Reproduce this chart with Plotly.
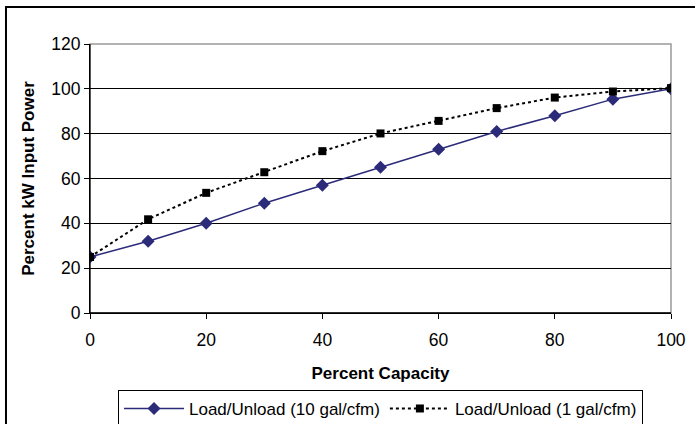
import plotly.graph_objects as go

capacity = [0, 10, 20, 30, 40, 50, 60, 70, 80, 90, 100]
power_10gal = [25, 32, 40, 49, 57, 65, 73, 81, 88, 95.4, 100]
power_1gal = [25, 41.8, 53.6, 62.8, 72.2, 80.1, 85.7, 91.4, 96.1, 98.8, 100.3]
x_ticks = [0, 20, 40, 60, 80, 100]
y_ticks = [0, 20, 40, 60, 80, 100, 120]

FONT = "Liberation Sans, Arial, sans-serif"

fig = go.Figure()
fig.add_trace(go.Scatter(
    x=capacity, y=power_10gal, mode="lines+markers",
    name="Load/Unload (10 gal/cfm)",
    line=dict(color="#2B2B7A", width=1.5),
    marker=dict(symbol="diamond", size=10, color="#2B2B7A"),
))
fig.add_trace(go.Scatter(
    x=capacity, y=power_1gal, mode="lines+markers",
    name="Load/Unload (1 gal/cfm)",
    line=dict(color="#000000", width=2, dash="dot"),
    marker=dict(symbol="square", size=8, color="#000000"),
))

fig.update_layout(
    width=695, height=424,
    margin=dict(l=90, r=24, t=44, b=111, autoexpand=False),
    paper_bgcolor="white", plot_bgcolor="white",
    font=dict(family=FONT, size=17, color="black"),
    showlegend=True,
    legend=dict(
        orientation="h", x=0.5, xanchor="center", y=-0.286, yanchor="top",
        bordercolor="black", borderwidth=1, font=dict(size=17, family=FONT),
        itemwidth=60, tracegroupgap=0,
    ),
    xaxis=dict(
        range=[0, 100], tickvals=x_ticks, showgrid=False, zeroline=False,
        showline=True, linecolor="black", linewidth=1, automargin=False,
        ticks="outside", ticklen=5, tickcolor="black", ticklabelstandoff=6,
        tickfont=dict(size=17.5),
        title=dict(text="<b>Percent Capacity</b>", font=dict(size=17), standoff=18),
    ),
    yaxis=dict(
        range=[0, 120], tickvals=y_ticks, showgrid=True, gridcolor="#000000",
        gridwidth=1, zeroline=False, automargin=False,
        showline=True, linecolor="black", linewidth=1,
        ticks="outside", ticklen=5, tickcolor="black",
        tickfont=dict(size=17.5),
        title=dict(text="<b>Percent kW Input Power</b>", font=dict(size=17), standoff=12),
    ),
    shapes=[
        dict(type="rect", xref="paper", yref="paper", x0=0, x1=1, y0=0, y1=1,
             line=dict(color="#999999", width=1.5), layer="below"),
        dict(type="line", xref="paper", yref="paper", x0=0, x1=0, y0=0, y1=1,
             line=dict(color="black", width=1), layer="above"),
        dict(type="line", xref="paper", yref="paper", x0=0, x1=1, y0=0, y1=0,
             line=dict(color="black", width=1.5), layer="above"),
        dict(type="path", xref="paper", yref="paper",
             path="M -0.1446,-0.5 L -0.1446,1.1375 L 1.05,1.1375",
             line=dict(color="black", width=2), layer="above"),
    ],
)

fig.write_html("out.html", config={"displayModeBar": False},
               post_script="document.body.style.margin='0';")
